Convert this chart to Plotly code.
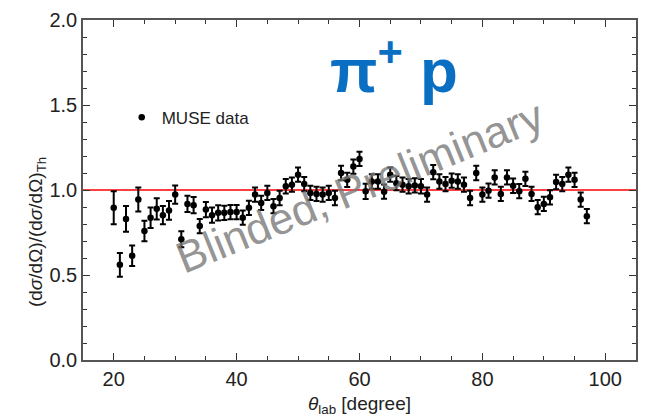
import plotly.graph_objects as go

# Scattering angle (lab frame, degrees)
theta = list(range(20, 98))

# Measured cross section relative to theory
ratio = [
    0.895, 0.560, 0.830, 0.613, 0.944, 0.759, 0.837, 0.889, 0.852, 0.880,
    0.973, 0.710, 0.918, 0.911, 0.788, 0.885, 0.852, 0.866, 0.866, 0.870,
    0.870, 0.837, 0.895, 0.973, 0.924, 0.983, 0.905, 0.953, 1.022, 1.031,
    1.090, 1.035, 0.983, 0.977, 0.973, 0.983, 0.953, 1.100, 1.060, 1.138,
    1.183, 0.992, 1.050, 1.050, 0.990, 1.090, 1.040, 1.031, 1.022, 1.027,
    1.022, 0.973, 1.105, 1.050, 1.035, 1.055, 1.050, 1.031, 0.953, 1.100,
    0.973, 0.996, 1.074, 0.977, 1.074, 1.025, 0.993, 1.066, 0.977, 0.899,
    0.918, 0.957, 1.047, 1.035, 1.090, 1.060, 0.944, 0.846,
]

# Statistical uncertainty
ratio_err = [
    0.097, 0.070, 0.076, 0.060, 0.070, 0.060, 0.060, 0.062, 0.054, 0.055,
    0.054, 0.047, 0.048, 0.048, 0.042, 0.045, 0.045, 0.045, 0.042, 0.042,
    0.042, 0.042, 0.042, 0.042, 0.042, 0.042, 0.042, 0.042, 0.042, 0.042,
    0.042, 0.042, 0.042, 0.042, 0.042, 0.042, 0.042, 0.042, 0.042, 0.042,
    0.042, 0.045, 0.042, 0.042, 0.042, 0.042, 0.042, 0.042, 0.042, 0.042,
    0.042, 0.042, 0.042, 0.042, 0.042, 0.042, 0.042, 0.042, 0.042, 0.042,
    0.042, 0.042, 0.042, 0.042, 0.042, 0.042, 0.042, 0.042, 0.042, 0.042,
    0.042, 0.042, 0.042, 0.042, 0.042, 0.042, 0.042, 0.042,
]

x_range = [15, 105]
y_range = [0, 2.0]
reference_level = 1.0

FONT = "Liberation Sans, Arial, sans-serif"
FRAME = "#555555"

fig = go.Figure()

# Theory reference line
fig.add_trace(go.Scatter(
    x=x_range, y=[reference_level, reference_level],
    mode="lines", line=dict(color="#ff0000", width=1.6),
    showlegend=False, hoverinfo="skip",
))

# Data points with error bars
fig.add_trace(go.Scatter(
    x=theta, y=ratio, mode="markers", name="MUSE data",
    marker=dict(color="black", size=6.5),
    error_y=dict(type="data", array=ratio_err, color="black",
                 thickness=2, width=3),
))

axis_common = dict(
    showline=True, linecolor=FRAME, linewidth=1.5, mirror="ticks",
    ticks="inside", ticklen=7, tickwidth=1.2, tickcolor="#333333",
    showgrid=False, zeroline=False,
    tickfont=dict(family=FONT, size=20, color="#222222"),
)

fig.update_xaxes(
    range=x_range, dtick=20, tick0=0,
    minor=dict(ticks="inside", ticklen=4, dtick=5, tickcolor="#333333"),
    title=dict(text="<i>θ</i><sub>lab</sub> [degree]",
               font=dict(family=FONT, size=19, color="#222222"), standoff=8),
    **axis_common,
)
fig.update_yaxes(
    range=y_range, dtick=0.5, tick0=0, tickformat=".1f",
    minor=dict(ticks="inside", ticklen=4, dtick=0.1, tickcolor="#333333"),
    **axis_common,
)

# Vertical axis label
fig.add_annotation(
    text="(d<i>σ</i>/dΩ)/(d<i>σ</i>/dΩ)<sub>Th</sub>",
    xref="paper", yref="y", x=-0.083, y=0.753, textangle=-90,
    showarrow=False, xanchor="center", yanchor="middle",
    font=dict(family=FONT, size=19, color="#222222"),
)

# Reaction label
fig.add_annotation(
    text="<b>π<sup>+</sup> p</b>", x=65.6, y=1.73, showarrow=False,
    xanchor="center", yanchor="middle",
    font=dict(family=FONT, size=62, color="#0a6fc2"),
)

# Watermark
fig.add_annotation(
    text="Blinded, Preliminary", x=60, y=1.02, showarrow=False,
    textangle=-22, xanchor="center", yanchor="middle",
    font=dict(family=FONT, size=44, color="rgba(120,120,120,0.8)"),
)

fig.update_layout(
    width=647, height=420,
    margin=dict(l=83, r=9, t=18, b=60),
    plot_bgcolor="white", paper_bgcolor="white",
    showlegend=True,
    legend=dict(x=0.07, y=0.713, xanchor="left", yanchor="middle",
                bgcolor="rgba(0,0,0,0)",
                font=dict(family=FONT, size=17, color="#222222")),
)

fig.write_html("out.html")
